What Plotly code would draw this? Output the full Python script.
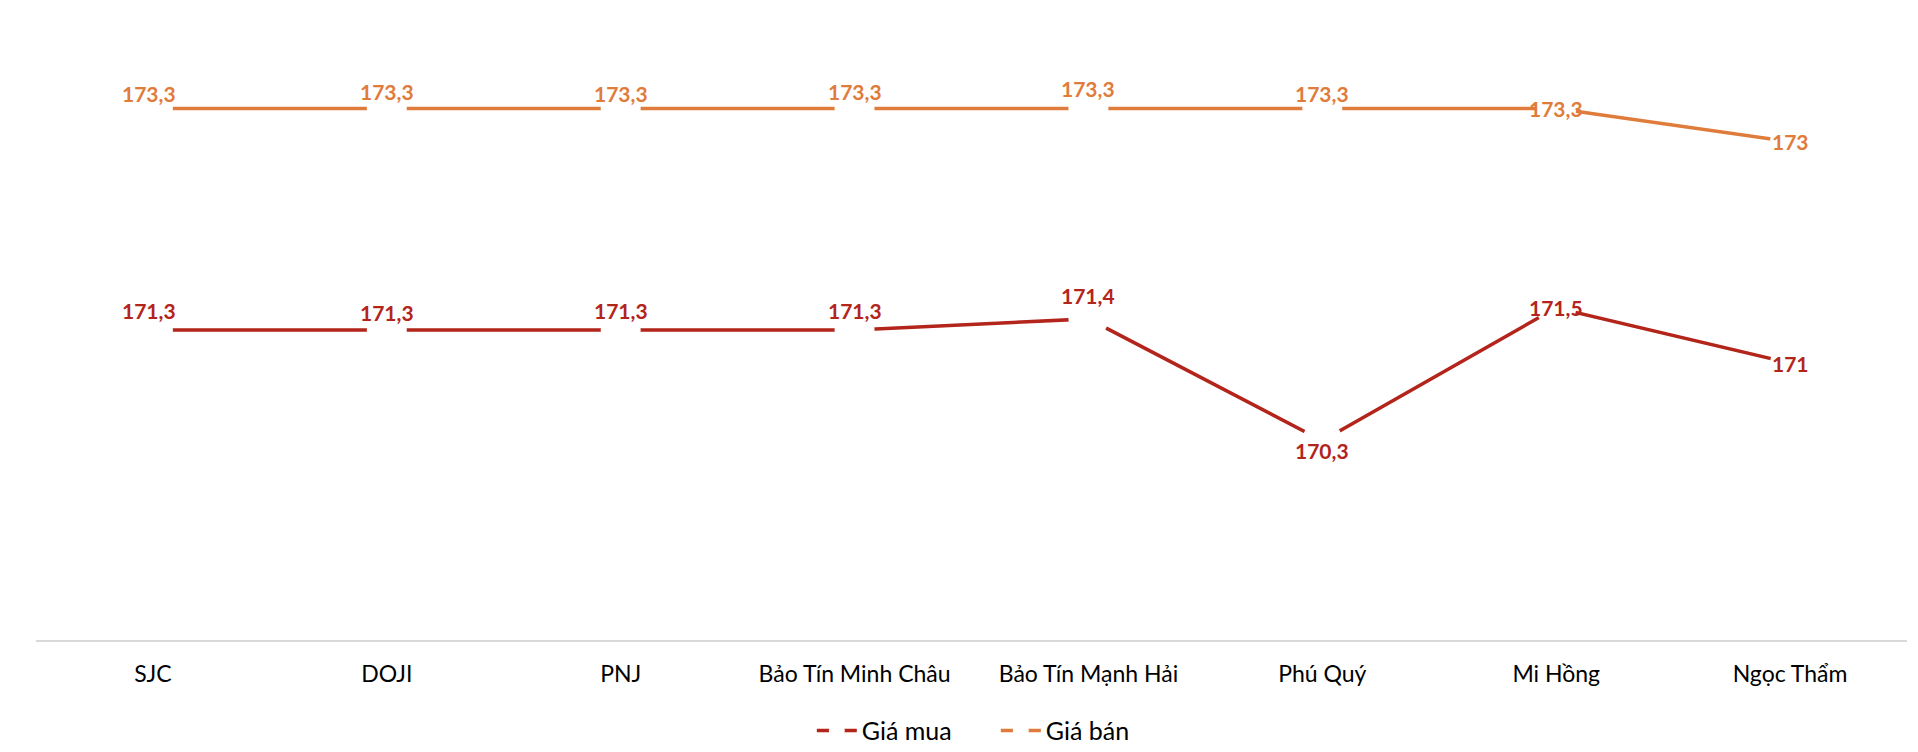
import plotly.graph_objects as go

# Giá vàng miếng tại các doanh nghiệp (triệu đồng/lượng)
categories = ["SJC", "DOJI", "PNJ", "Bảo Tín Minh Châu", "Bảo Tín Mạnh Hải",
              "Phú Quý", "Mi Hồng", "Ngọc Thẩm"]
gia_mua = [171.3, 171.3, 171.3, 171.3, 171.4, 170.3, 171.5, 171.0]
gia_ban = [173.3, 173.3, 173.3, 173.3, 173.3, 173.3, 173.3, 173.0]

RED = "#B3241B"
ORANGE = "#DF7C3B"
FONT = "Lato"

# label offsets (px) like the Excel data labels
shift_mua = [19, 17, 19, 19, 23, -10, 0, 0]
shift_ban = [15, 17, 15, 17, 20, 15, 0, 0]
xshift_all = [-4, 0, 0, 0, 0, 0, 0, 0]


def fmt(v):
    s = ("%.1f" % v).rstrip("0").rstrip(".")
    return s.replace(".", ",")


fig = go.Figure()
for name, vals, color in [("Giá mua", gia_mua, RED), ("Giá bán", gia_ban, ORANGE)]:
    fig.add_trace(go.Scatter(
        x=categories, y=vals, name=name, mode="lines+markers",
        line=dict(color=color, width=3.5),
        marker=dict(size=40, color="white", line=dict(width=0)),
        hoverinfo="x+y",
    ))

annotations = []
for vals, shifts, color in [(gia_mua, shift_mua, RED), (gia_ban, shift_ban, ORANGE)]:
    for c, v, s, xs in zip(categories, vals, shifts, xshift_all):
        annotations.append(dict(
            x=c, y=v, text=fmt(v), showarrow=False, yshift=s, xshift=xs,
            font=dict(family=FONT, size=21, color=color, weight="bold"),
        ))

# page body has an 8px margin, so the margins here are pulled in by that much
fig.update_layout(
    width=1918, height=752,
    margin=dict(l=28, r=19, t=23, b=120),
    paper_bgcolor="white", plot_bgcolor="white",
    font=dict(family=FONT, size=23, color="#000000"),
    showlegend=True,
    legend=dict(orientation="h", x=0.513, xanchor="center",
                yref="container", y=0.039, yanchor="middle",
                font=dict(family=FONT, size=25, color="#000000"),
                itemwidth=40, entrywidth=129, traceorder="normal"),
    annotations=annotations,
    xaxis=dict(type="category", range=[-0.5, 7.5], showgrid=False,
               showline=True, linecolor="#D9D9D9", linewidth=1.5,
               ticks="outside", ticklen=13, tickcolor="white",
               tickfont=dict(family=FONT, size=23, color="#000000")),
    yaxis=dict(range=[168.5, 174], visible=False, showgrid=False, zeroline=False),
)

fig.write_html("out.html")
